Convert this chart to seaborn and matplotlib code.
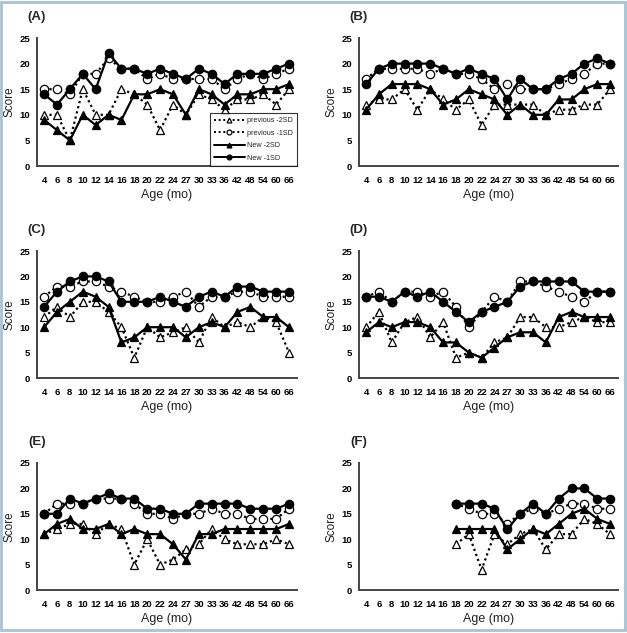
import numpy as np
import pandas as pd
import matplotlib.pyplot as plt
from matplotlib.patches import Rectangle
import seaborn as sns

ages = ["4", "6", "8", "10", "12", "14", "16", "18", "20", "22",
        "24", "27", "30", "33", "36", "42", "48", "54", "60", "66"]
series_names = ["previous -2SD", "previous -1SD", "New -2SD", "New -1SD"]
nan = np.nan

# panel A
a_prev2 = [10, 10, 5, 15, 10, 10, 15, 14, 12, 7, 12, 10, 14, 13, 11, 13, 13, 14, 12, 15]
a_prev1 = [15, 15, 14, 18, 18, 21, 19, 19, 17, 18, 17, 17, 17, 17, 15, 17, 18, 17, 18, 19]
a_new2 = [9, 7, 5, 10, 8, 10, 9, 14, 14, 15, 14, 10, 15, 14, 12, 14, 14, 15, 15, 16]
a_new1 = [14, 12, 15, 18, 15, 22, 19, 19, 18, 19, 18, 17, 19, 18, 16, 18, 18, 18, 19, 20]
# panel B
b_prev2 = [12, 13, 13, 15, 11, 15, 13, 11, 13, 8, 12, 12, 12, 12, 10, 11, 11, 12, 12, 15]
b_prev1 = [17, 19, 19, 19, 19, 18, 19, 18, 18, 17, 15, 16, 15, 15, 15, 16, 17, 18, 20, 20]
b_new2 = [11, 14, 16, 16, 16, 15, 12, 13, 15, 14, 13, 10, 12, 10, 10, 13, 13, 15, 16, 16]
b_new1 = [16, 19, 20, 20, 20, 20, 19, 18, 19, 18, 17, 13, 17, 15, 15, 17, 18, 20, 21, 20]
# panel C
c_prev2 = [12, 14, 12, 15, 15, 13, 10, 4, 10, 8, 9, 10, 7, 12, 10, 11, 10, 12, 11, 5]
c_prev1 = [16, 18, 18, 19, 19, 18, 17, 16, 15, 15, 16, 17, 14, 16, 16, 17, 17, 16, 16, 16]
c_new2 = [10, 13, 15, 17, 16, 14, 7, 8, 10, 10, 10, 8, 10, 11, 10, 13, 14, 12, 12, 10]
c_new1 = [14, 17, 19, 20, 20, 19, 15, 15, 15, 16, 15, 14, 16, 17, 16, 18, 18, 17, 17, 17]
# panel D
d_prev2 = [10, 13, 7, 11, 12, 8, 11, 4, 5, 4, 7, 8, 12, 12, 10, 10, 11, 12, 11, 11]
d_prev1 = [16, 17, 15, 17, 17, 16, 17, 14, 10, 13, 16, 15, 19, 19, 18, 17, 16, 15, 17, 17]
d_new2 = [9, 11, 10, 11, 11, 10, 7, 7, 5, 4, 6, 8, 9, 9, 7, 12, 13, 12, 12, 12]
d_new1 = [16, 16, 15, 17, 16, 17, 15, 13, 11, 13, 14, 15, 18, 19, 19, 19, 19, 17, 17, 17]
# panel E
e_prev2 = [11, 12, 13, 13, 11, 13, 12, 5, 10, 5, 6, 8, 9, 12, 10, 9, 9, 9, 10, 9]
e_prev1 = [15, 17, 17, 17, 18, 18, 18, 17, 15, 15, 14, 15, 15, 16, 15, 15, 14, 14, 14, 16]
e_new2 = [11, 13, 14, 12, 12, 13, 11, 12, 11, 11, 9, 6, 11, 11, 12, 12, 12, 12, 12, 13]
e_new1 = [15, 15, 18, 17, 18, 19, 18, 18, 16, 16, 15, 15, 17, 17, 17, 17, 16, 16, 16, 17]
# panel F (no data before 18 mo)
f_prev2 = [nan] * 7 + [9, 11, 4, 11, 9, 11, 12, 8, 11, 11, 14, 13, 11]
f_prev1 = [nan] * 7 + [17, 16, 15, 15, 13, 15, 16, 15, 16, 17, 17, 16, 16]
f_new2 = [nan] * 7 + [12, 12, 12, 12, 8, 10, 12, 11, 13, 15, 16, 14, 13]
f_new1 = [nan] * 7 + [17, 17, 17, 16, 12, 15, 17, 15, 18, 20, 20, 18, 18]

panels = {
    "(A)": [a_prev2, a_prev1, a_new2, a_new1],
    "(B)": [b_prev2, b_prev1, b_new2, b_new1],
    "(C)": [c_prev2, c_prev1, c_new2, c_new1],
    "(D)": [d_prev2, d_prev1, d_new2, d_new1],
    "(E)": [e_prev2, e_prev1, e_new2, e_new1],
    "(F)": [f_prev2, f_prev1, f_new2, f_new1],
}

styles = {
    "previous -2SD": dict(linestyle=(0, (1, 1.4)), marker="^", markerfacecolor="white", markersize=6),
    "previous -1SD": dict(linestyle=(0, (1, 1.4)), marker="o", markerfacecolor="white", markersize=6),
    "New -2SD": dict(linestyle="-", marker="^", markerfacecolor="black", markersize=6),
    "New -1SD": dict(linestyle="-", marker="o", markerfacecolor="black", markersize=6),
}

sns.set_theme(style="white")
plt.rcParams["font.family"] = ["Liberation Sans", "DejaVu Sans"]

fig = plt.figure(figsize=(6.27, 6.33), dpi=100)
W, H = 627, 633
lefts = [37, 359]
widths = [260, 259]
tops = [38, 251, 463]
heights = [128, 127, 127]

pos = np.arange(len(ages))

for i, (title, vals) in enumerate(panels.items()):
    r, c = divmod(i, 2)
    x0, w = lefts[c], widths[c]
    y0, h = tops[r], heights[r]
    ax = fig.add_axes([x0 / W, (H - y0 - h) / H, w / W, h / H])

    for name, v in zip(series_names, vals):
        d = pd.DataFrame({"pos": pos, "score": v}).dropna()
        sns.lineplot(data=d, x="pos", y="score", ax=ax, color="black",
                     linewidth=1.6, markeredgecolor="black", markeredgewidth=0.9,
                     label=name, legend=False, **styles[name])

    ax.set_xlim(-0.55, 19.62)
    ax.set_ylim(0, 25)
    ax.set_yticks(range(0, 26, 5))
    ax.set_xticks(pos)
    ax.set_xticklabels(ages)
    ax.tick_params(length=0, labelsize=6.8, colors="black")
    ax.tick_params(axis="x", pad=7)
    ax.tick_params(axis="y", pad=5)
    for lab in ax.get_xticklabels() + ax.get_yticklabels():
        lab.set_fontweight("bold")
    ax.set_xlabel("Age (mo)", fontsize=9, color="#222222", labelpad=3)
    ax.set_ylabel("Score", fontsize=8.5, color="#222222", labelpad=3)
    for s in ["top", "right"]:
        ax.spines[s].set_visible(False)
    for s in ["left", "bottom"]:
        ax.spines[s].set_color("#444444")
        ax.spines[s].set_linewidth(1.4)
    ax.patch.set_alpha(0)
    ax.text(0, 1 + 21 / h, title, transform=ax.transAxes, ha="center", va="center",
            fontsize=9.5, fontweight="bold")

    if title == "(A)":
        leg = ax.legend(loc="lower right", fontsize=5.2, frameon=True, fancybox=False,
                        borderaxespad=0.0, handlelength=4.2, labelspacing=0.75,
                        handletextpad=0.3, borderpad=0.6)
        leg.get_frame().set_edgecolor("black")
        leg.get_frame().set_linewidth(0.8)
        for line in leg.get_lines():
            line.set_markersize(3.5)
            line.set_linewidth(1.4)

fig.patches.append(Rectangle((0.002, 0.004), 0.995, 0.993, transform=fig.transFigure,
                             fill=False, edgecolor="#a8c3d3", linewidth=2))

fig.savefig("out.png", dpi=100)
